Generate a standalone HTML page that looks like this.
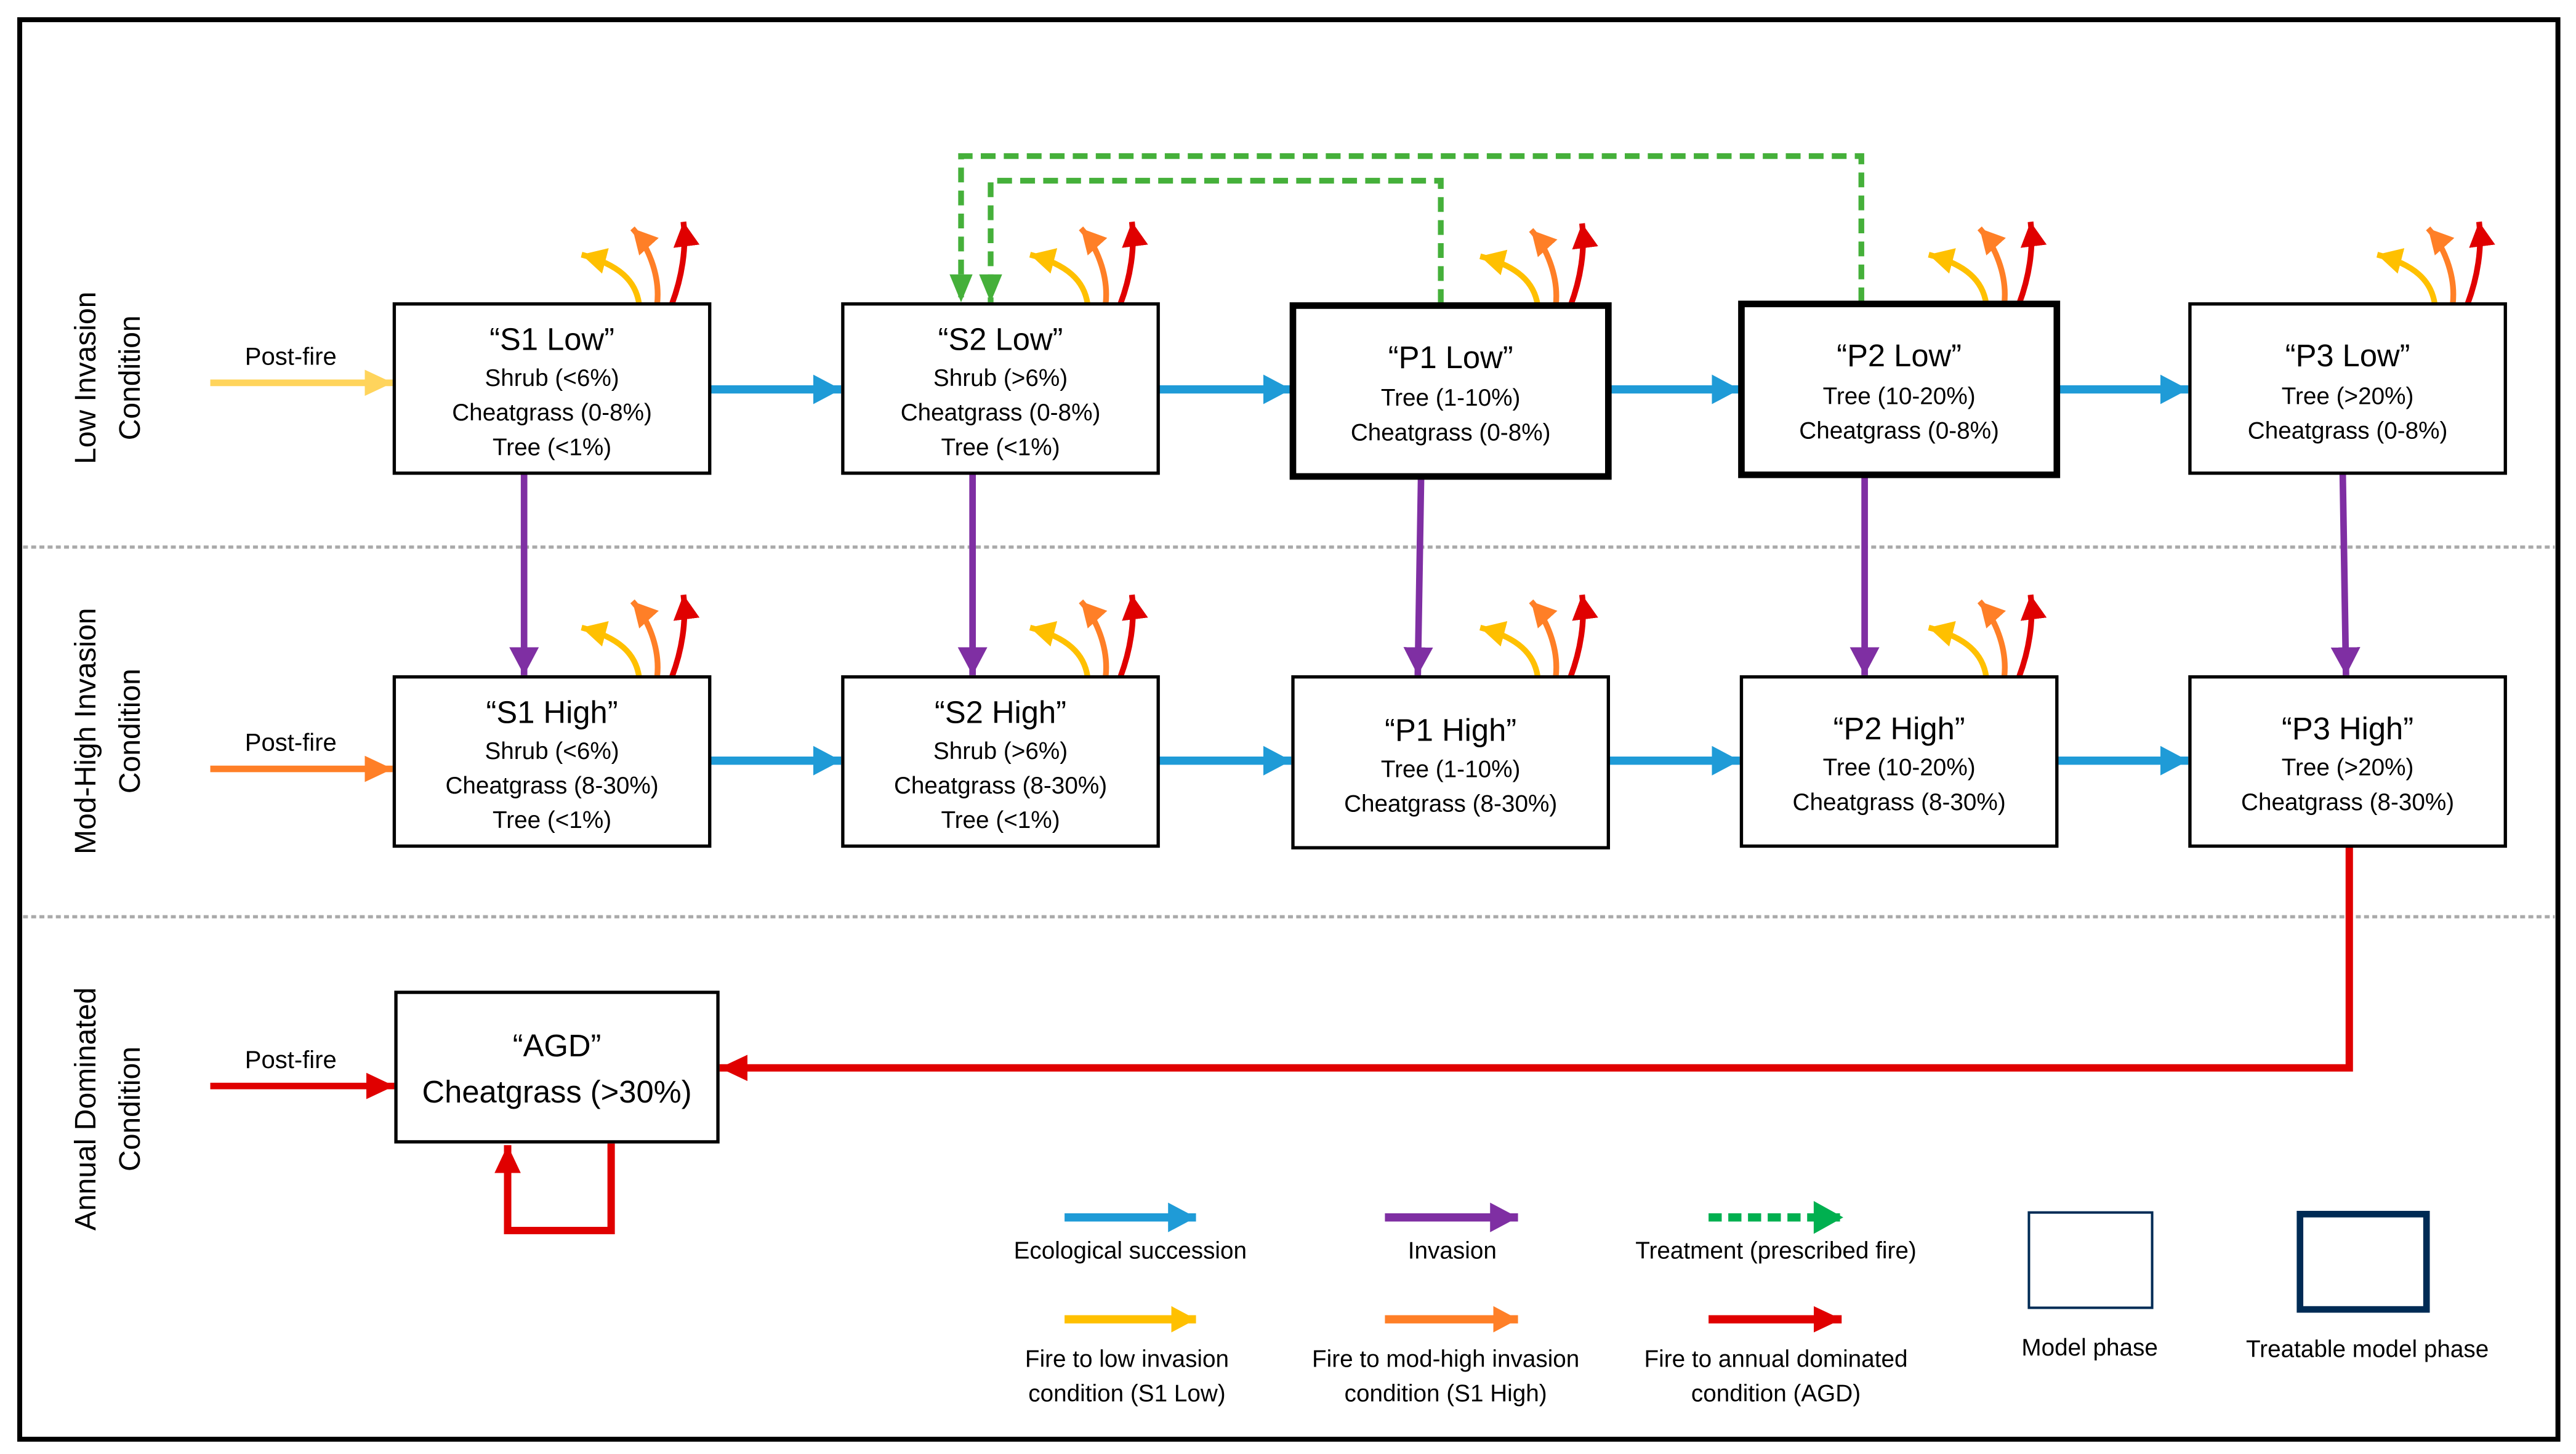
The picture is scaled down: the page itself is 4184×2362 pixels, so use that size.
<!DOCTYPE html>
<html><head><meta charset="utf-8"><style>
html,body{margin:0;padding:0;background:#fff;}
svg{display:block;}
text{font-family:"Liberation Sans",sans-serif;fill:#000;}
</style></head><body>
<svg width="4184" height="2362" viewBox="0 0 1568 885" preserveAspectRatio="none" xmlns="http://www.w3.org/2000/svg">
<defs>
<marker id="ab" markerUnits="userSpaceOnUse" markerWidth="20" markerHeight="20" refX="17" refY="10" orient="auto"><path d="M0,1 L17,10 L0,19 Z" fill="#1f9bd7"/></marker>
<marker id="ap" markerUnits="userSpaceOnUse" markerWidth="20" markerHeight="20" refX="17" refY="10" orient="auto"><path d="M0,1 L17,10 L0,19 Z" fill="#7f2fa3"/></marker>
<marker id="ar" markerUnits="userSpaceOnUse" markerWidth="20" markerHeight="20" refX="17" refY="10" orient="auto"><path d="M0,2 L17,10 L0,18 Z" fill="#e00000"/></marker>
<marker id="ay" markerUnits="userSpaceOnUse" markerWidth="20" markerHeight="20" refX="17" refY="10" orient="auto"><path d="M0,2 L17,10 L0,18 Z" fill="#ffd45c"/></marker>
<marker id="ao" markerUnits="userSpaceOnUse" markerWidth="20" markerHeight="20" refX="17" refY="10" orient="auto"><path d="M0,2 L17,10 L0,18 Z" fill="#ff7f27"/></marker>
<marker id="ag" markerUnits="userSpaceOnUse" markerWidth="20" markerHeight="20" refX="17" refY="10" orient="auto"><path d="M0,3 L17,10 L0,17 Z" fill="#45b03a"/></marker>
<marker id="fy" markerUnits="userSpaceOnUse" markerWidth="20" markerHeight="20" refX="15" refY="10" orient="auto"><path d="M0,2 L15,10 L0,18 Z" fill="#ffc000"/></marker>
<marker id="fo" markerUnits="userSpaceOnUse" markerWidth="20" markerHeight="20" refX="15" refY="10" orient="auto"><path d="M0,2 L15,10 L0,18 Z" fill="#ff7f27"/></marker>
<marker id="fr" markerUnits="userSpaceOnUse" markerWidth="20" markerHeight="20" refX="15" refY="10" orient="auto"><path d="M0,2 L15,10 L0,18 Z" fill="#e00000"/></marker>
<g id="fire">
<path d="M-43,0 C-45,-14 -55,-24 -78,-30" stroke="#ffc000" stroke-width="3.5" fill="none" marker-end="url(#fy)"/>
<path d="M-32,0 C-30,-18 -38,-36 -47,-46" stroke="#ff7f27" stroke-width="3.5" fill="none" marker-end="url(#fo)"/>
<path d="M-23,0 C-17,-16 -14,-34 -16,-50" stroke="#e00000" stroke-width="3.5" fill="none" marker-end="url(#fr)"/>
</g>
</defs>
<rect x="12" y="12" width="1545" height="864" fill="none" stroke="#000" stroke-width="3"/>
<line x1="14" y1="333" x2="1555" y2="333" stroke="#aaa" stroke-width="2" stroke-dasharray="3,2"/>
<line x1="14" y1="558" x2="1555" y2="558" stroke="#aaa" stroke-width="2" stroke-dasharray="3,2"/>

<g font-size="18">
<text transform="translate(58,230) rotate(-90)" text-anchor="middle">Low Invasion</text>
<text transform="translate(85,230) rotate(-90)" text-anchor="middle">Condition</text>
<text transform="translate(58,445) rotate(-90)" text-anchor="middle">Mod-High Invasion</text>
<text transform="translate(85,445) rotate(-90)" text-anchor="middle">Condition</text>
<text transform="translate(58,675) rotate(-90)" text-anchor="middle">Annual Dominated</text>
<text transform="translate(85,675) rotate(-90)" text-anchor="middle">Condition</text>
</g>
<g font-size="15" text-anchor="middle">
<text x="177" y="222">Post-fire</text>
<text x="177" y="457">Post-fire</text>
<text x="177" y="650">Post-fire</text>
</g>
<line x1="128" y1="233" x2="239" y2="233" stroke="#ffd45c" stroke-width="4" marker-end="url(#ay)"/>
<line x1="128" y1="468" x2="239" y2="468" stroke="#ff7f27" stroke-width="4" marker-end="url(#ao)"/>
<line x1="128" y1="661" x2="240" y2="661" stroke="#e00000" stroke-width="4" marker-end="url(#ar)"/>

<path d="M877,185 V110 H603 V184" stroke="#45b03a" stroke-width="3.5" fill="none" stroke-dasharray="9,5" marker-end="url(#ag)"/>
<path d="M1133,184 V95 H585 V184" stroke="#45b03a" stroke-width="3.5" fill="none" stroke-dasharray="9,5" marker-end="url(#ag)"/>

<use href="#fire" x="432" y="185"/><use href="#fire" x="705" y="185"/><use href="#fire" x="979" y="186"/><use href="#fire" x="1252" y="185"/><use href="#fire" x="1525" y="185"/>
<use href="#fire" x="432" y="412"/><use href="#fire" x="705" y="412"/><use href="#fire" x="979" y="412"/><use href="#fire" x="1252" y="412"/>

<g stroke="#1f9bd7" stroke-width="5" marker-end="url(#ab)">
<line x1="432" y1="237" x2="512" y2="237"/><line x1="705" y1="237" x2="786" y2="237"/><line x1="979" y1="237" x2="1059" y2="237"/><line x1="1252" y1="237" x2="1332" y2="237"/>
<line x1="432" y1="463" x2="512" y2="463"/><line x1="705" y1="463" x2="786" y2="463"/><line x1="979" y1="463" x2="1059" y2="463"/><line x1="1252" y1="463" x2="1332" y2="463"/>
</g>
<g stroke="#7f2fa3" stroke-width="4" marker-end="url(#ap)">
<line x1="319" y1="288" x2="319" y2="411"/><line x1="592" y1="288" x2="592" y2="411"/><line x1="865" y1="290" x2="863" y2="411"/><line x1="1135" y1="289" x2="1135" y2="411"/><line x1="1426" y1="288" x2="1428" y2="411"/>
</g>
<path d="M1430,515 V650 H438" stroke="#e00000" stroke-width="4.5" fill="none" marker-end="url(#ar)"/>
<path d="M372,696 V749 H309 V697" stroke="#e00000" stroke-width="4.5" fill="none" marker-end="url(#ar)"/>

<g fill="#fff" stroke="#000">
<rect x="240" y="185" width="192" height="103" stroke-width="2"/>
<rect x="513" y="185" width="192" height="103" stroke-width="2"/>
<rect x="787" y="186" width="192" height="104" stroke-width="4"/>
<rect x="1060" y="185" width="192" height="104" stroke-width="4"/>
<rect x="1333" y="185" width="192" height="103" stroke-width="2"/>
<rect x="240" y="412" width="192" height="103" stroke-width="2"/>
<rect x="513" y="412" width="192" height="103" stroke-width="2"/>
<rect x="787" y="412" width="192" height="104" stroke-width="2"/>
<rect x="1060" y="412" width="192" height="103" stroke-width="2"/>
<rect x="1333" y="412" width="192" height="103" stroke-width="2"/>
<rect x="241" y="604" width="196" height="91" stroke-width="2"/>
</g>
<g text-anchor="middle" font-size="14.5">
<text x="336" y="213" font-size="19">“S1 Low”</text><text x="336" y="235">Shrub (&lt;6%)</text><text x="336" y="256">Cheatgrass (0-8%)</text><text x="336" y="277">Tree (&lt;1%)</text>
<text x="609" y="213" font-size="19">“S2 Low”</text><text x="609" y="235">Shrub (&gt;6%)</text><text x="609" y="256">Cheatgrass (0-8%)</text><text x="609" y="277">Tree (&lt;1%)</text>
<text x="883" y="224" font-size="19">“P1 Low”</text><text x="883" y="247">Tree (1-10%)</text><text x="883" y="268">Cheatgrass (0-8%)</text>
<text x="1156" y="223" font-size="19">“P2 Low”</text><text x="1156" y="246">Tree (10-20%)</text><text x="1156" y="267">Cheatgrass (0-8%)</text>
<text x="1429" y="223" font-size="19">“P3 Low”</text><text x="1429" y="246">Tree (&gt;20%)</text><text x="1429" y="267">Cheatgrass (0-8%)</text>
<text x="336" y="440" font-size="19">“S1 High”</text><text x="336" y="462">Shrub (&lt;6%)</text><text x="336" y="483">Cheatgrass (8-30%)</text><text x="336" y="504">Tree (&lt;1%)</text>
<text x="609" y="440" font-size="19">“S2 High”</text><text x="609" y="462">Shrub (&gt;6%)</text><text x="609" y="483">Cheatgrass (8-30%)</text><text x="609" y="504">Tree (&lt;1%)</text>
<text x="883" y="451" font-size="19">“P1 High”</text><text x="883" y="473">Tree (1-10%)</text><text x="883" y="494">Cheatgrass (8-30%)</text>
<text x="1156" y="450" font-size="19">“P2 High”</text><text x="1156" y="472">Tree (10-20%)</text><text x="1156" y="493">Cheatgrass (8-30%)</text>
<text x="1429" y="450" font-size="19">“P3 High”</text><text x="1429" y="472">Tree (&gt;20%)</text><text x="1429" y="493">Cheatgrass (8-30%)</text>
<text x="339" y="643" font-size="19">“AGD”</text><text x="339" y="671" font-size="19">Cheatgrass (&gt;30%)</text>
</g>

<line x1="648" y1="741" x2="728" y2="741" stroke="#1f9bd7" stroke-width="5" marker-end="url(#ab)"/>
<line x1="843" y1="741" x2="924" y2="741" stroke="#7f2fa3" stroke-width="5" marker-end="url(#ap)"/>
<line x1="1040" y1="741" x2="1121" y2="741" stroke="#00b050" stroke-width="5" stroke-dasharray="8,4"/>
<path d="M1104,731 L1122,741 L1104,751 Z" fill="#00b050"/>
<line x1="648" y1="803" x2="728" y2="803" stroke="#ffc000" stroke-width="5" marker-end="url(#fy)"/>
<line x1="843" y1="803" x2="924" y2="803" stroke="#ff7f27" stroke-width="5" marker-end="url(#fo)"/>
<line x1="1040" y1="803" x2="1121" y2="803" stroke="#e00000" stroke-width="5" marker-end="url(#ar)"/>
<rect x="1235" y="738" width="75" height="58" fill="none" stroke="#002b55" stroke-width="1.5"/>
<rect x="1400" y="739" width="77" height="58" fill="none" stroke="#002b55" stroke-width="4"/>
<g text-anchor="middle" font-size="14.5">
<text x="688" y="766">Ecological succession</text>
<text x="884" y="766">Invasion</text>
<text x="1081" y="766">Treatment (prescribed fire)</text>
<text x="686" y="832">Fire to low invasion</text><text x="686" y="853">condition (S1 Low)</text>
<text x="880" y="832">Fire to mod-high invasion</text><text x="880" y="853">condition (S1 High)</text>
<text x="1081" y="832">Fire to annual dominated</text><text x="1081" y="853">condition (AGD)</text>
<text x="1272" y="825">Model phase</text>
<text x="1441" y="826">Treatable model phase</text>
</g>
</svg>
</body></html>
